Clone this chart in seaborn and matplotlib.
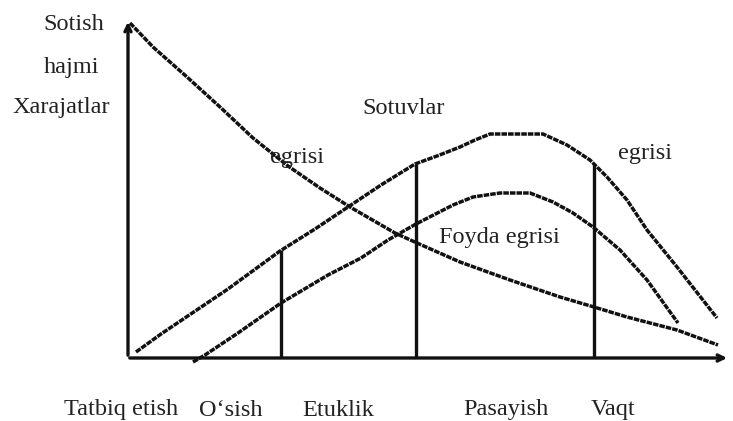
import numpy as np
import pandas as pd
import matplotlib
matplotlib.use("Agg")
import matplotlib.pyplot as plt
import seaborn as sns

sns.set_style("white")
plt.rcParams["font.family"] = ["Liberation Serif", "DejaVu Serif"]

# data (time on x, volume on y, arbitrary units)
sales_x = [8, 33, 100, 152, 187, 220, 253, 287, 309, 332, 347, 362, 415, 439, 462, 479, 499, 519, 549, 589]
sales_y = [6, 24, 69, 107, 129, 151, 173, 194, 202, 211, 218, 224, 224, 213, 198, 181, 158, 128, 91, 40]

profit_x = [65, 77, 110, 143, 153, 200, 233, 260, 288, 325, 345, 372, 402, 425, 445, 465, 492, 519, 550]
profit_y = [-4, 3, 25, 48, 55, 83, 100, 118, 134, 153, 161, 165, 165, 156, 145, 131, 108, 78, 35]

cost_x = [2, 25, 59, 92, 125, 160, 192, 222, 267, 289, 332, 382, 432, 466, 499, 549, 590]
cost_y = [335, 311, 281, 251, 220, 192, 170, 151, 125, 115, 96, 78, 61, 51, 41, 28, 13]

stage_bounds = [153, 288, 466]
stage_labels = ["Tatbiq etish", "O‘sish", "Etuklik", "Pasayish", "Vaqt"]
stage_label_x = [-7, 103, 210, 378, 485]

df = pd.concat([
    pd.DataFrame({"t": sales_x, "v": sales_y, "curve": "sales"}),
    pd.DataFrame({"t": profit_x, "v": profit_y, "curve": "profit"}),
    pd.DataFrame({"t": cost_x, "v": cost_y, "curve": "cost"}),
])

fig = plt.figure(figsize=(7.33, 4.21), dpi=100)
ax = fig.add_axes([0, 0, 1, 1])

sns.lineplot(data=df, x="t", y="v", units="curve", estimator=None, color="#111111",
             lw=2.5, dashes=False, ax=ax, legend=False)
for ln in ax.get_lines():
    ln.set_linestyle((0, (1.6, 0.3)))

# vertical stage boundaries up to the sales curve
for b in stage_bounds:
    top = np.interp(b, sales_x, sales_y)
    ax.plot([b, b], [0, top], color="#111111", lw=2.4, solid_capstyle="butt")

# axes with arrows
ax.annotate("", xy=(0, 339), xytext=(0, 0),
            arrowprops=dict(arrowstyle="->,head_length=0.45,head_width=0.22", lw=2.4, color="#111111"))
ax.annotate("", xy=(602, 0), xytext=(-1, 0),
            arrowprops=dict(arrowstyle="->,head_length=0.45,head_width=0.22", lw=2.4, color="#111111"))

fs = 17.5
tc = "#222222"
ax.text(-54, 334, "Sotish", fontsize=fs, ha="center", va="center", color=tc)
ax.text(-56, 290, "hajmi", fontsize=fs, ha="center", va="center", color=tc)
ax.text(-67, 250, "Xarajatlar", fontsize=fs, ha="center", va="center", color=tc)
ax.text(169, 201, "egrisi", fontsize=fs, ha="center", va="center", color=tc)
ax.text(276, 250, "Sotuvlar", fontsize=fs, ha="center", va="center", color=tc)
ax.text(517, 205, "egrisi", fontsize=fs, ha="center", va="center", color=tc)
ax.text(371, 120, "Foyda egrisi", fontsize=fs, ha="center", va="center", color=tc)
for lab, lx in zip(stage_labels, stage_label_x):
    ax.text(lx, -52, lab, fontsize=fs, ha="center", va="center", color=tc)

ax.set_xlim(-128, 605)
ax.set_ylim(-63, 358)
ax.axis("off")

fig.savefig("out.png", dpi=100)
